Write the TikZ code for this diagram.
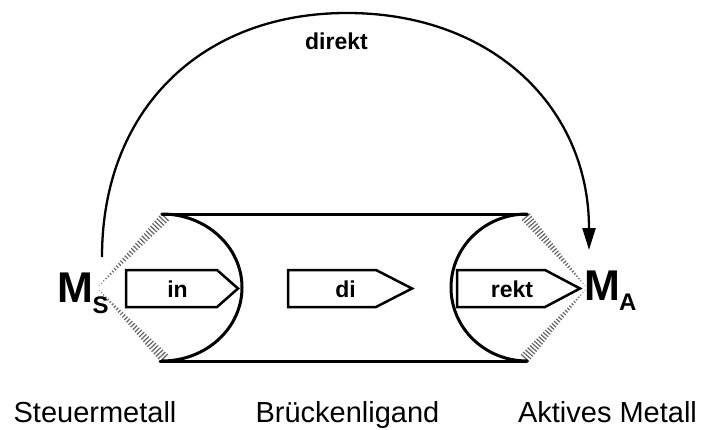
\documentclass[tikz,border=0pt]{standalone}
\usepackage{fontspec}
\setmainfont{Liberation Sans}
\usetikzlibrary{calc,arrows.meta}
\tikzset{
  mainline/.style={line width=3pt, line cap=round},
  arrowbox/.style={line width=2.5pt, fill=white, line join=miter},
  boxtext/.style={font=\fontsize{23}{23}\selectfont\bfseries, anchor=base, inner sep=0pt},
  bigM/.style={font=\fontsize{43}{43}\selectfont\bfseries, anchor=base west, inner sep=0pt},
  subM/.style={font=\fontsize{24}{24}\selectfont\bfseries, anchor=base west, inner sep=0pt},
  caption/.style={font=\fontsize{29}{29}\selectfont, anchor=base, inner sep=0pt},
  hatch/.style={line width=1.2pt, draw=black!60},
  directarc/.style={line width=2.3pt, -{Triangle[length=22pt,width=13pt]}},
}
\begin{document}
\begin{tikzpicture}[x=1pt,y=1pt]
\useasboundingbox (0,0) rectangle (701,429);

% key points
\coordinate (msP) at (97,141);
\coordinate (maP) at (587,141);
\coordinate (cLT) at (166,213);
\coordinate (cLB) at (165,70);
\coordinate (cRT) at (525,213);
\coordinate (cRB) at (524,70);

% hashed wedges
\foreach \c/\m in {cLT/msP, cLB/msP, cRT/maP, cRB/maP} {
  \foreach \i in {1,...,30} {
    \pgfmathsetmacro\t{\i/30.5}
    \pgfmathsetmacro\h{5.4*\t}
    \path ($(\m)!\t!(\c)$) coordinate (p);
    \draw[hatch] ($(p)!\h pt!90:(\c)$) -- ($(p)!\h pt!-90:(\c)$);
  }
}

% bridging ligand body
\coordinate (tl) at (162,215);
\coordinate (tr) at (527,215);
\coordinate (bl) at (160,68);
\coordinate (br) at (527,68);
\draw[mainline] (tl) -- (tr);
\draw[mainline] (bl) -- (br);
\draw[mainline] (tl) arc[start angle=90, end angle=-90, x radius=80, y radius=73.5];
\draw[mainline] (tr) arc[start angle=90, end angle=270, x radius=76, y radius=73.5];

% arrow boxes
\draw[arrowbox] (126,159) -- (217,159) -- (238,140.5) -- (217,122) -- (126,122) -- cycle;
\node[boxtext] (in) at (177.5,132) {in};
\draw[arrowbox] (288,159) -- (376,159) -- (412,140.5) -- (376,122) -- (288,122) -- cycle;
\node[boxtext] (di) at (345.5,132) {di};
\draw[arrowbox] (457,159) -- (545,159) -- (580,140.5) -- (545,122) -- (457,122) -- cycle;
\node[boxtext] (rekt) at (512,132) {rekt};

% metals
\node[bigM] (ms) at (57,127) {M};
\node[subM] (mss) at (92.5,116) {S};
\node[bigM] (ma) at (584,129) {M};
\node[subM] (mas) at (619,119) {A};

% direct path
\coordinate (arcS) at (102,172);
\coordinate (arcE) at (589,179);
\draw[directarc] (arcS) .. controls (102,318) and (200,416) .. (347,416)
                        .. controls (493,416) and (589,321) .. (arcE);
\node[boxtext] (direkt) at (336.5,379) {direkt};

% captions
\node[caption] (steuer) at (95,7) {Steuermetall};
\node[caption] (bruecke) at (347.5,7) {Brückenligand};
\node[caption] (aktiv) at (607.5,7) {Aktives Metall};
\end{tikzpicture}
\end{document}
